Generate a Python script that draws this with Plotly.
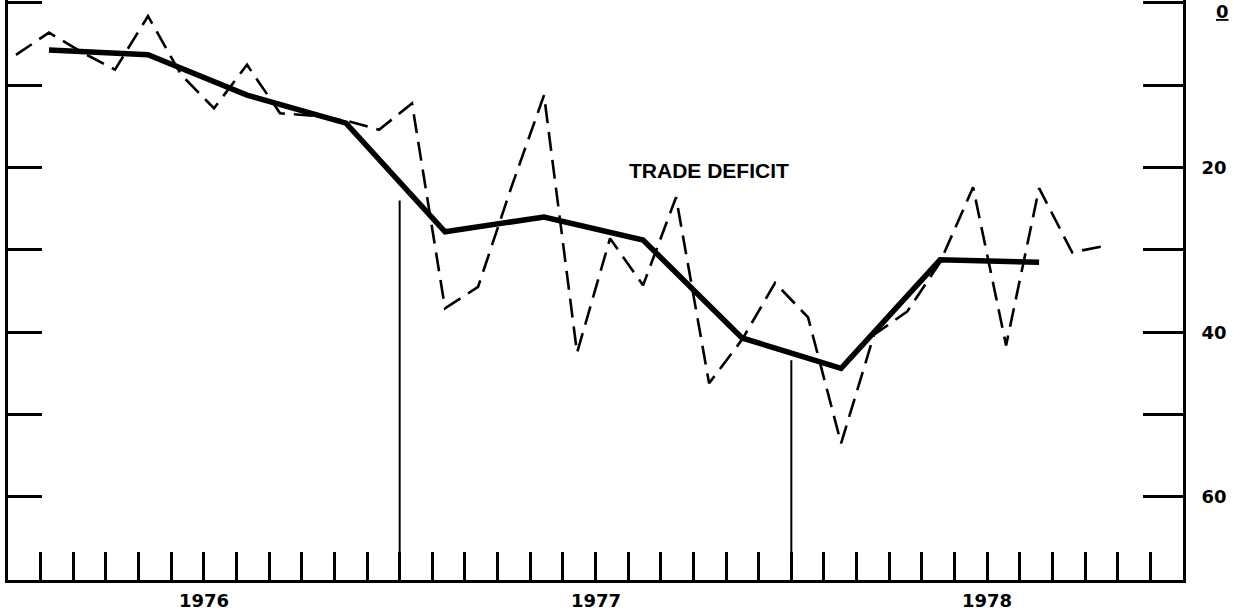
import plotly.graph_objects as go

# monthly trade balance, month index 0 = Jan 1976 (deficit, billions, axis reversed)
months = [0, 1, 2, 3, 4, 5, 6, 7, 8, 9, 10, 11,
          12, 13, 14, 15, 16, 17, 18, 19, 20, 21, 22, 23,
          24, 25, 26, 27, 28, 29, 30, 31, 32, 33]
monthly_deficit = [6.3, 3.6, 6.0, 8.1, 1.6, 8.7, 12.8, 7.5, 13.4, 13.7, 14.3, 15.4,
                   12.2, 37.1, 34.5, 22.5, 11.2, 42.5, 28.6, 34.3, 23.6, 46.2, 40.9, 34.0,
                   38.2, 53.5, 40.3, 37.5, 31.5, 22.4, 41.6, 22.5, 30.3, 29.5]

# quarterly averages, plotted at mid-quarter month
quarter_months = [1, 4, 7, 10, 13, 16, 19, 22, 25, 28, 31]
quarterly_deficit = [5.7, 6.3, 11.2, 14.6, 27.8, 26.0, 28.8, 40.7, 44.4, 31.2, 31.5]

years = ["1976", "1977", "1978"]
year_centers = [6, 18, 30]
year_breaks = [12, 24]
year_break_tops = [24.0, 43.4]

y_ticks = [0, 10, 20, 30, 40, 50, 60]
y_ticktext = ["", "", "20", "", "40", "", "60"]

Y_BOTTOM, Y_TOP = 70.1, -0.36
NUM_FONT = dict(family="DejaVu Sans", size=18, color="black")

fig = go.Figure()

# dashed monthly series on the left axis
fig.add_trace(go.Scatter(
    x=months, y=monthly_deficit,
    mode="lines", yaxis="y",
    line=dict(color="black", width=2.6, dash="19px,9px"),
    showlegend=False
))

# solid quarterly series on the right (labelled) axis
fig.add_trace(go.Scatter(
    x=quarter_months, y=quarterly_deficit,
    mode="lines", yaxis="y2",
    line=dict(color="black", width=5.5),
    showlegend=False
))

# year separators rising from the time axis
for xb, top in zip(year_breaks, year_break_tops):
    fig.add_shape(type="line", xref="x2", yref="y",
                  x0=xb, x1=xb, y0=Y_BOTTOM, y1=top,
                  line=dict(color="black", width=2))

fig.add_annotation(
    text="<b>TRADE DEFICIT</b>", x=21.0, y=20.3, xref="x", yref="y",
    showarrow=False, font=dict(family="Liberation Sans", size=21, color="black")
)

fig.add_annotation(
    text="<b><u>0</u></b>", xref="paper", x=1, xanchor="left", xshift=31,
    yref="y", y=0, yshift=-9, showarrow=False, font=NUM_FONT
)

for label, xc in zip(years, year_centers):
    fig.add_annotation(
        text="<b>" + label + "</b>", xref="x2", x=xc, yref="paper", y=0,
        yanchor="middle", yshift=-20, showarrow=False, font=NUM_FONT
    )

fig.update_layout(
    width=1242, height=614,
    paper_bgcolor="white", plot_bgcolor="white",
    margin=dict(l=8, r=59, t=0, b=34),
    showlegend=False,
    xaxis=dict(range=[-0.242, 35.36], showline=False, showgrid=False,
               zeroline=False, showticklabels=False, ticks=""),
    xaxis2=dict(range=[0, 36], overlaying="x", side="bottom", anchor="y",
                tickmode="array", tickvals=list(range(1, 36)),
                ticks="inside", ticklen=28, tickwidth=2.5, tickcolor="black",
                showline=True, linewidth=3, linecolor="black",
                showgrid=False, zeroline=False, showticklabels=False),
    yaxis=dict(range=[Y_BOTTOM, Y_TOP], side="left",
               tickmode="array", tickvals=y_ticks,
               ticks="inside", ticklen=34, tickwidth=3, tickcolor="black",
               showline=True, linewidth=3, linecolor="black",
               showgrid=False, zeroline=False, showticklabels=False),
    yaxis2=dict(range=[Y_BOTTOM, Y_TOP], overlaying="y", side="right", anchor="x",
                tickmode="array", tickvals=y_ticks, ticktext=y_ticktext,
                ticks="inside", ticklen=40, tickwidth=3, tickcolor="black",
                showline=True, linewidth=3, linecolor="black",
                showgrid=False, zeroline=False,
                tickfont=dict(family="DejaVu Sans", size=18, color="black", weight="bold"),
                ticklabelstandoff=12),
)

fig.write_html("out.html", config={"displayModeBar": False},
               post_script="document.body.style.margin='0px';")
